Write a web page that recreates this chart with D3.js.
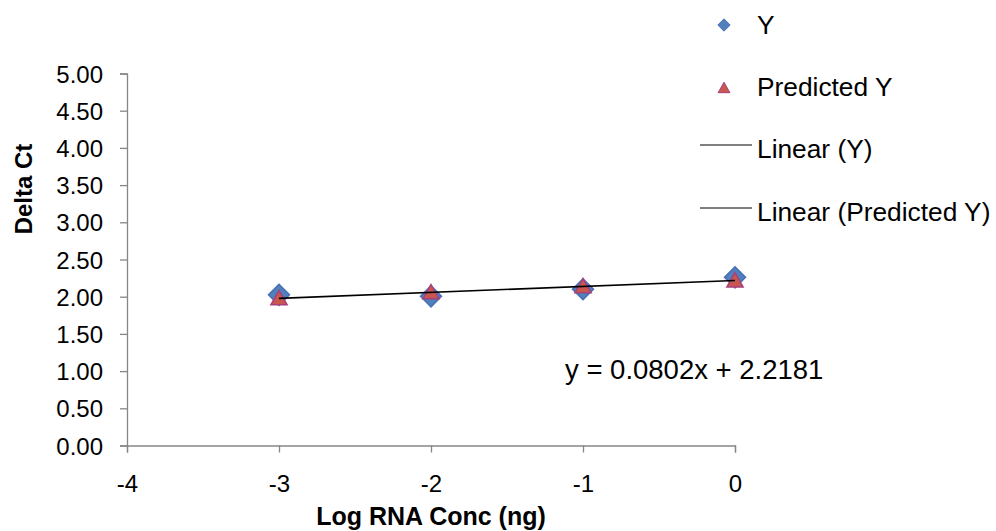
<!DOCTYPE html>
<html>
<head>
<meta charset="utf-8">
<script src="https://cdn.jsdelivr.net/npm/d3@7/dist/d3.min.js"></script>
<style>
  html, body { margin: 0; padding: 0; background: #fff; }
  svg { display: block; font-family: "Liberation Sans", Arial, sans-serif; }
</style>
</head>
<body>
<svg id="chart" width="996" height="531"></svg>
<script>
// Log RNA concentration (ng) and measured / predicted Delta Ct
const logConc = [-3, -2, -1, 0];
const deltaCt = [2.025, 2.005, 2.10, 2.26];
const predictedCt = [1.978, 2.058, 2.138, 2.218];

// Linear trendline fitted to the series
const trendSlope = 0.0802;
const trendIntercept = 2.2181;
const trendRange = [-3, 0];

const xTicks = [-4, -3, -2, -1, 0];
const yTicks = [0, 0.5, 1, 1.5, 2, 2.5, 3, 3.5, 4, 4.5, 5];

const legendItems = ["Y", "Predicted Y", "Linear (Y)", "Linear (Predicted Y)"];

const svg = d3.select("#chart");
const axisColor = "#868686";
const diamondFill = "#4f81bd", diamondStroke = "#4a6fb5";
const triFill = "#c8574f", triStroke = "#a8407a";

const x = d3.scaleLinear().domain([-4, 0]).range([127, 735]);
const y = d3.scaleLinear().domain([0, 5]).range([445.5, 73.5]);

// Diamond and triangle marker shapes for d3.symbol
const diamondType = {
  draw(ctx, size) {
    const r = Math.sqrt(size / 2);
    ctx.moveTo(0, -r); ctx.lineTo(r, 0); ctx.lineTo(0, r); ctx.lineTo(-r, 0); ctx.closePath();
  }
};
const triangleType = {
  draw(ctx, size) {
    const w = Math.sqrt(size * 2.2);
    const h = w * 0.88;
    ctx.moveTo(0, -h * 0.55); ctx.lineTo(w / 2, h * 0.45); ctx.lineTo(-w / 2, h * 0.45); ctx.closePath();
  }
};

// Y axis
const yAxis = svg.append("g")
  .attr("transform", `translate(${x(-4)},0)`)
  .call(d3.axisLeft(y).tickValues(yTicks).tickSize(7).tickPadding(17)
    .tickFormat(d3.format(".2f")));
yAxis.select(".domain").attr("stroke", axisColor).attr("stroke-width", 1.3);
yAxis.selectAll(".tick line").attr("stroke", axisColor).attr("stroke-width", 1.3);
yAxis.selectAll(".tick text").attr("fill", "#000").style("font-size", "24px")
  .attr("dy", "0.36em");

// X axis
const xAxis = svg.append("g")
  .attr("transform", `translate(0,${y(0)})`)
  .call(d3.axisBottom(x).tickValues(xTicks).tickSize(7).tickPadding(22)
    .tickFormat(d3.format("d")));
xAxis.select(".domain").attr("stroke", axisColor).attr("stroke-width", 1.3);
xAxis.selectAll(".tick line").attr("stroke", axisColor).attr("stroke-width", 1.3);
xAxis.selectAll(".tick text").attr("fill", "#000").style("font-size", "24px");
xAxis.selectAll(".tick text").text(d => d < 0 ? "-" + Math.abs(d) : String(d));

// Axis titles
svg.append("text")
  .attr("x", 431).attr("y", 525)
  .attr("text-anchor", "middle")
  .style("font-size", "25px").style("font-weight", "bold")
  .text("Log RNA Conc (ng)");
svg.append("text")
  .attr("transform", "translate(32,189) rotate(-90)")
  .attr("text-anchor", "middle")
  .style("font-size", "24px").style("font-weight", "bold")
  .text("Delta Ct");

// Markers
const diamond = d3.symbol().type(diamondType).size(220);
const triangle = d3.symbol().type(triangleType).size(120);

svg.append("g").selectAll("path")
  .data(logConc.map((v, i) => [v, deltaCt[i]]))
  .join("path")
  .attr("transform", d => `translate(${x(d[0])},${y(d[1])})`)
  .attr("d", diamond)
  .attr("fill", diamondFill).attr("stroke", diamondStroke).attr("stroke-width", 1.5);

svg.append("g").selectAll("path")
  .data(logConc.map((v, i) => [v, predictedCt[i]]))
  .join("path")
  .attr("transform", d => `translate(${x(d[0])},${y(d[1])})`)
  .attr("d", triangle)
  .attr("fill", triFill).attr("stroke", triStroke).attr("stroke-width", 1.5);

// Trendline
const line = d3.line().x(d => x(d)).y(d => y(trendSlope * d + trendIntercept));
svg.append("path")
  .attr("d", line(trendRange))
  .attr("fill", "none").attr("stroke", "#000").attr("stroke-width", 1.6);

// Trendline equation
svg.append("text")
  .attr("x", 565).attr("y", 379)
  .style("font-size", "27.5px")
  .text(`y = ${trendSlope}x + ${trendIntercept}`);

// Legend
const legendRows = [34, 96, 158, 221];
const lg = svg.append("g");
legendItems.forEach((label, i) => {
  const yy = legendRows[i];
  if (i === 0) {
    lg.append("path").attr("transform", `translate(724,${yy - 9})`)
      .attr("d", d3.symbol().type(diamondType).size(76))
      .attr("fill", diamondFill).attr("stroke", diamondStroke).attr("stroke-width", 1);
  } else if (i === 1) {
    lg.append("path").attr("transform", `translate(724,${yy - 8})`)
      .attr("d", d3.symbol().type(triangleType).size(64))
      .attr("fill", triFill).attr("stroke", triStroke).attr("stroke-width", 1);
  } else {
    lg.append("line").attr("x1", 700).attr("x2", 752)
      .attr("y1", yy - 13).attr("y2", yy - 13)
      .attr("stroke", "#000").attr("stroke-width", 1);
  }
  lg.append("text").attr("x", 757).attr("y", yy)
    .style("font-size", "26.3px").text(label);
});
</script>
</body>
</html>
